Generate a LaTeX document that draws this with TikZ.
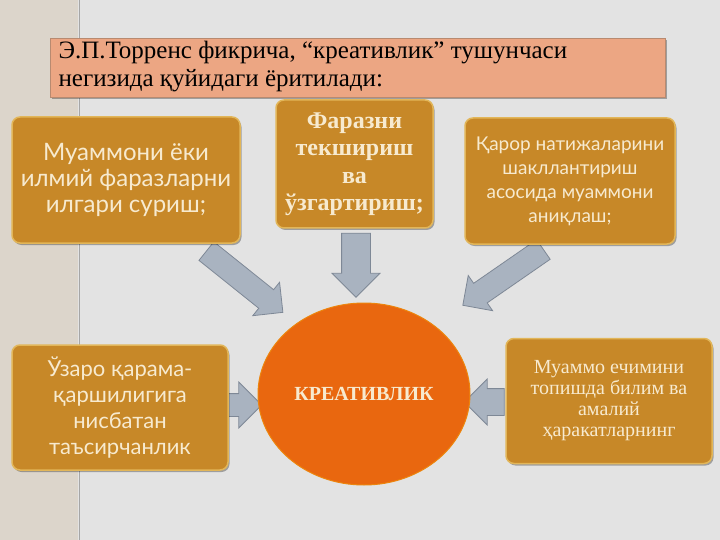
\documentclass[tikz,border=0pt]{standalone}
\usepackage{fontspec}
\setmainfont{Liberation Serif}
\newfontfamily\boxsans{Lato}
\usetikzlibrary{shapes.arrows,shapes.geometric,shadows}
\definecolor{bggray}{HTML}{E3E3E3}
\definecolor{strip}{HTML}{DCD5CB}
\definecolor{boxfill}{HTML}{C78828}
\definecolor{boxedge}{HTML}{E2B659}
\definecolor{boxtext}{HTML}{F7EACF}
\definecolor{titlefill}{HTML}{ECA683}
\definecolor{titleedge}{HTML}{B88A70}
\definecolor{arrowfill}{HTML}{A9B3C0}
\definecolor{arrowedge}{HTML}{7E8896}
\definecolor{circfill}{HTML}{E9670F}
\tikzset{
  ideabox/.style={draw=boxedge, line width=1.5pt, fill=boxfill, rounded corners=8pt,
    text=boxtext, align=center, inner sep=0pt,
    drop shadow={shadow xshift=1.5pt, shadow yshift=-2pt, fill=black, opacity=0.3}},
  blockarrow/.style={single arrow, draw=arrowedge, fill=arrowfill, line width=0.8pt,
    inner xsep=0pt, single arrow tip angle=90}
}
\begin{document}
\begin{tikzpicture}[x=1pt,y=-1pt]
\useasboundingbox (0,0) rectangle (720,540);
\fill[bggray] (0,0) rectangle (720,540);
\fill[strip] (0,0) rectangle (78,540);
\draw[gray!70, line width=0.8pt] (79,0) -- (79,540);
% title
\node[draw=titleedge, fill=titlefill, line width=0.8pt, minimum width=615pt, minimum height=59pt,
  inner sep=0pt, drop shadow={shadow xshift=1.5pt, shadow yshift=-2pt, fill=black, opacity=0.3}] (title) at (357.5,67.5) {};
\node[anchor=west, align=left, font=\fontsize{25}{28}\selectfont, text=black] (titletext) at (55,67) {Э.П.Торренс фикрича, “креативлик” тушунчаси\\негизида қуйидаги ёритилади:};
% arrows (drawn below boxes)
\node[blockarrow, inner ysep=11.5pt, single arrow head extend=9.5pt, minimum height=98pt, rotate=-38.7] (a1) at (240,278) {};
\node[blockarrow, inner ysep=14pt, single arrow head extend=9.5pt, minimum height=64pt, rotate=-90] (a2) at (356,258) {};
\node[blockarrow, inner ysep=11.5pt, single arrow head extend=9.5pt, minimum height=98pt, rotate=214.7] (a3) at (508,274) {};
\node[blockarrow, inner ysep=11pt, single arrow head extend=11.5pt, minimum height=34pt, rotate=0] (a4) at (239,405) {};
\node[blockarrow, inner ysep=13pt, single arrow head extend=9.5pt, minimum height=40pt, rotate=180] (a5) at (491,402) {};
% boxes
\node[ideabox, minimum width=228pt, minimum height=126pt, font=\boxsans\fontsize{24}{26}\selectfont] (b1) at (126,180)
  {Муаммони ёки\\илмий фаразларни\\илгари суриш;};
\node[ideabox, minimum width=157pt, minimum height=128pt, font=\bfseries\fontsize{24}{27.5}\selectfont] (b2) at (354.5,164)
  {Фаразни\\текшириш\\ва\\ўзгартириш;};
\node[ideabox, minimum width=210pt, minimum height=126pt, font=\boxsans\fontsize{19}{24}\selectfont] (b3) at (570,181)
  {Қарор натижаларини\\шакллантириш\\асосида муаммони\\аниқлаш;};
\node[ideabox, minimum width=216pt, minimum height=125pt, font=\boxsans\fontsize{22}{26}\selectfont] (b4) at (120,407.5)
  {Ўзаро қарама-\\қаршилигига\\нисбатан\\таъсирчанлик};
\node[ideabox, minimum width=206pt, minimum height=125pt, font=\fontsize{20}{21}\selectfont] (b5) at (609,401)
  {Муаммо ечимини\\топишда билим ва\\амалий\\ҳаракатларнинг};
% centre
\node[ellipse, fill=circfill, draw=circfill!80!yellow, line width=1pt, minimum width=212pt, minimum height=182pt,
  font=\bfseries\fontsize{20}{22}\selectfont, text=boxtext] (c) at (364,394) {КРЕАТИВЛИК};
\end{tikzpicture}
\end{document}
